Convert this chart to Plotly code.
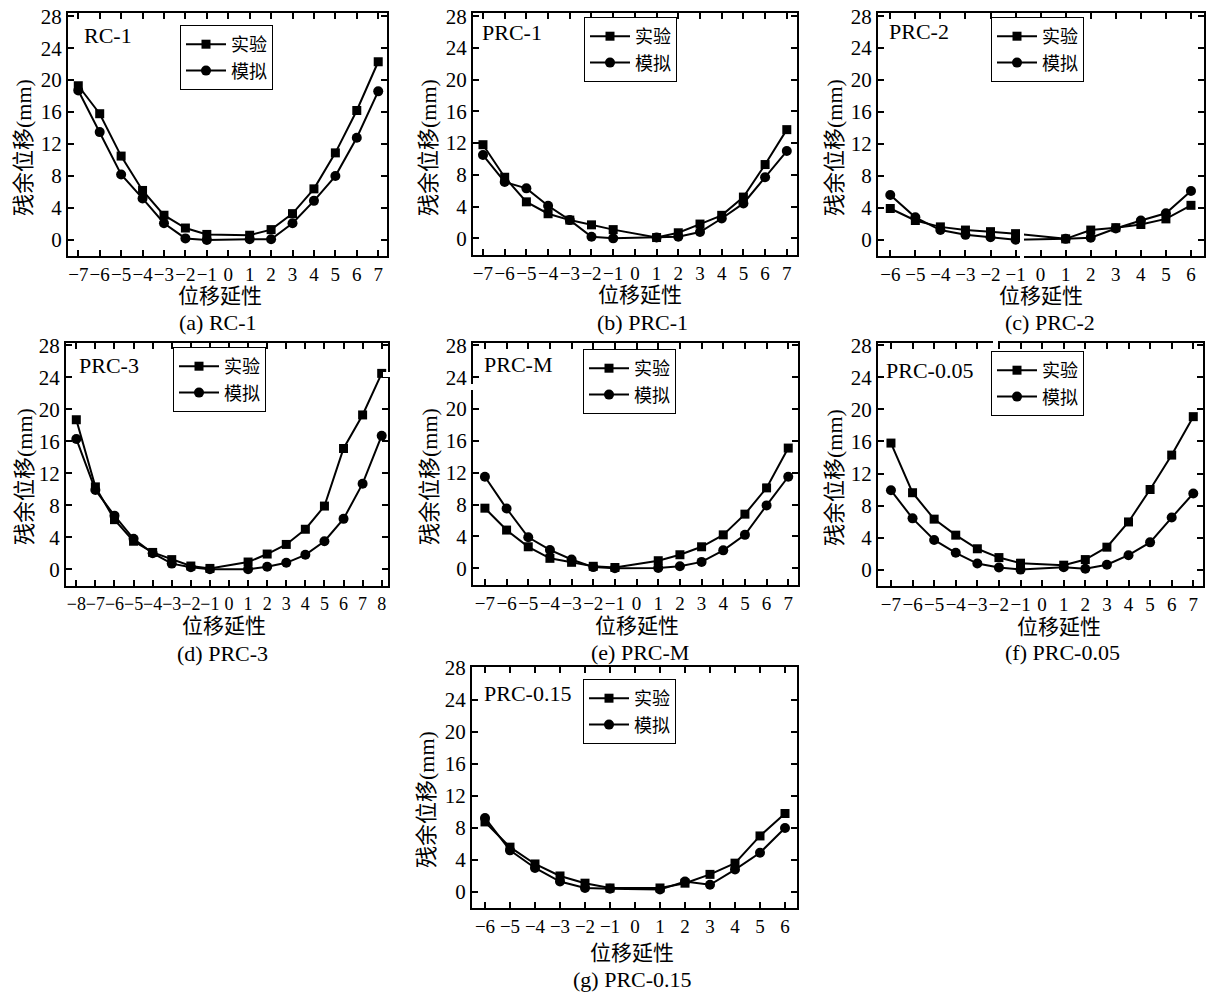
import plotly.graph_objects as go

W, H = 1210, 995

# ---------------- data ----------------
x7 = [-7, -6, -5, -4, -3, -2, -1, 1, 2, 3, 4, 5, 6, 7]
x6 = [-6, -5, -4, -3, -2, -1, 1, 2, 3, 4, 5, 6]
x8 = [-8, -7, -6, -5, -4, -3, -2, -1, 1, 2, 3, 4, 5, 6, 7, 8]

rc1_exp = [19.3, 15.8, 10.5, 6.2, 3.1, 1.5, 0.7, 0.6, 1.3, 3.3, 6.4, 10.9, 16.2, 22.3]
rc1_sim = [18.7, 13.5, 8.2, 5.2, 2.1, 0.2, 0.0, 0.1, 0.1, 2.1, 4.9, 8.0, 12.8, 18.6]

prc1_exp = [11.8, 7.7, 4.6, 3.1, 2.3, 1.7, 1.1, 0.1, 0.7, 1.8, 2.9, 5.2, 9.3, 13.7]
prc1_sim = [10.5, 7.1, 6.3, 4.1, 2.3, 0.2, 0.0, 0.1, 0.2, 0.8, 2.5, 4.4, 7.7, 11.0]

prc2_exp = [3.9, 2.4, 1.6, 1.2, 1.0, 0.75, 0.1, 1.2, 1.5, 1.9, 2.6, 4.3]
prc2_sim = [5.6, 2.8, 1.2, 0.6, 0.3, 0.0, 0.1, 0.25, 1.4, 2.4, 3.3, 6.1]

prc3_exp = [18.7, 10.3, 6.2, 3.5, 2.1, 1.2, 0.4, 0.1, 0.9, 1.9, 3.1, 5.0, 7.9, 15.1, 19.3, 24.5]
prc3_sim = [16.3, 9.9, 6.7, 3.8, 2.0, 0.7, 0.25, 0.0, 0.0, 0.3, 0.8, 1.8, 3.5, 6.3, 10.7, 16.7]

prcm_exp = [7.55, 4.8, 2.7, 1.25, 0.75, 0.25, 0.1, 0.95, 1.7, 2.7, 4.2, 6.8, 10.1, 15.1]
prcm_sim = [11.5, 7.5, 3.9, 2.3, 1.1, 0.15, 0.0, 0.05, 0.25, 0.8, 2.25, 4.2, 7.9, 11.5]

prc005_exp = [15.8, 9.6, 6.3, 4.3, 2.6, 1.5, 0.8, 0.55, 1.25, 2.8, 5.95, 10.0, 14.3, 19.1]
prc005_sim = [9.9, 6.4, 3.7, 2.1, 0.75, 0.25, 0.0, 0.3, 0.1, 0.6, 1.8, 3.4, 6.5, 9.5]

prc015_exp = [8.75, 5.6, 3.5, 2.0, 1.1, 0.5, 0.5, 1.1, 2.2, 3.6, 7.0, 9.8]
prc015_sim = [9.25, 5.2, 3.0, 1.3, 0.5, 0.4, 0.3, 1.3, 0.9, 2.8, 4.9, 8.0]

y_ticks = [0, 4, 8, 12, 16, 20, 24, 28]
series_names = ["实验", "模拟"]
panel_names = ["RC-1", "PRC-1", "PRC-2", "PRC-3", "PRC-M", "PRC-0.05", "PRC-0.15"]
captions = ["(a) RC-1", "(b) PRC-1", "(c) PRC-2", "(d) PRC-3", "(e) PRC-M", "(f) PRC-0.05", "(g) PRC-0.15"]
x_title = "位移延性"
y_title = "残余位移(mm)"

# ---------------- layout helpers ----------------
SERIF = "Liberation Serif, Noto Sans CJK SC"
CJK = "Liberation Serif, Noto Sans CJK SC"

panels = [
    dict(x=x7, e=rc1_exp, s=rc1_sim, n=7, box=(68, 13, 387, 256), xr=[-7.48, 7.41], yr=[-2.0, 28.4],
         leg=(180, 25), lab=(82, 35), xt=(220, 296), yt=(24, 148), cp=(218, 323)),
    dict(x=x7, e=prc1_exp, s=prc1_sim, n=7, box=(473, 13, 797, 255), xr=[-7.46, 7.47], yr=[-2.1, 28.4],
         leg=(584, 17), lab=(480, 33), xt=(640, 295), yt=(429, 148), cp=(642, 323)),
    dict(x=x6, e=prc2_exp, s=prc2_sim, n=6, box=(878, 13, 1204, 256), xr=[-6.49, 6.52], yr=[-2.05, 28.4],
         leg=(991, 17), lab=(887, 31), xt=(1041, 296), yt=(835, 148), cp=(1050, 323)),
    dict(x=x8, e=prc3_exp, s=prc3_sim, n=8, box=(66, 343, 388, 586), xr=[-8.54, 8.33], yr=[-2.1, 28.3],
         leg=(173, 347), lab=(77, 366), xt=(224, 626), yt=(24, 477), cp=(222, 653)),
    dict(x=x7, e=prcm_exp, s=prcm_sim, n=7, box=(473, 343, 798, 585), xr=[-7.55, 7.45], yr=[-2.1, 28.3],
         leg=(583, 349), lab=(482, 365), xt=(637, 626), yt=(429, 477), cp=(640, 652)),
    dict(x=x7, e=prc005_exp, s=prc005_sim, n=7, box=(878, 343, 1203, 586), xr=[-7.6, 7.45], yr=[-2.05, 28.3],
         leg=(991, 351), lab=(884, 370), xt=(1059, 627), yt=(834, 477), cp=(1062, 652)),
    dict(x=x6, e=prc015_exp, s=prc015_sim, n=6, box=(472, 667, 797, 908), xr=[-6.52, 6.48], yr=[-2.0, 28.1],
         leg=(583, 679), lab=(482, 693), xt=(632, 953), yt=(426, 800), cp=(632, 979)),
]


def px(xp):
    return xp / W


def py(yp):
    return 1 - yp / H


fig = go.Figure()
layout = dict(
    width=W, height=H, margin=dict(l=0, r=0, t=0, b=0, pad=0, autoexpand=False),
    paper_bgcolor="white", plot_bgcolor="white", showlegend=True,
    font=dict(family=SERIF, color="black"),
)
annotations = []
shapes = []

for i, p in enumerate(panels):
    k = "" if i == 0 else str(i + 1)
    xa, ya = "x" + k, "y" + k
    lg = "legend" + k
    fig.add_trace(go.Scatter(
        x=p["x"], y=p["e"], mode="lines+markers", name=series_names[0],
        line=dict(color="black", width=2), marker=dict(symbol="square", size=9, color="black"),
        xaxis=xa, yaxis=ya, legend=lg, cliponaxis=False))
    fig.add_trace(go.Scatter(
        x=p["x"], y=p["s"], mode="lines+markers", name=series_names[1],
        line=dict(color="black", width=2), marker=dict(symbol="circle", size=10, color="black"),
        xaxis=xa, yaxis=ya, legend=lg, cliponaxis=False))
    l, t, r, b = p["box"]
    n = p["n"]
    fs_x = 18 if n == 8 else 19
    layout["xaxis" + k] = dict(
        domain=[px(l), px(r)], anchor=ya, range=p["xr"], automargin=False,
        tickmode="array", tickvals=list(range(-n, n + 1)), tickangle=0, ticklabeloverflow="allow",
        ticks="inside", ticklen=6, tickwidth=1.5, tickcolor="black", mirror="ticks",
        showline=True, linecolor="black", linewidth=2, showgrid=False, zeroline=False,
        tickfont=dict(family=SERIF, size=fs_x, color="black"), fixedrange=True)
    layout["yaxis" + k] = dict(
        domain=[py(b), py(t)], anchor=xa, range=p["yr"], automargin=False,
        tickmode="array", tickvals=y_ticks, ticklabeloverflow="allow",
        ticks="inside", ticklen=6, tickwidth=1.5, tickcolor="black", mirror="ticks",
        showline=True, linecolor="black", linewidth=2, showgrid=False, zeroline=False,
        tickfont=dict(family=SERIF, size=21, color="black"), fixedrange=True)
    layout[lg] = dict(
        x=px(p["leg"][0]), y=py(p["leg"][1]), xanchor="left", yanchor="top",
        bordercolor="black", borderwidth=1, bgcolor="white",
        font=dict(family=CJK, size=18, color="black"), tracegroupgap=0, itemwidth=40)
    # panel label
    annotations.append(dict(text=panel_names[i], x=px(p["lab"][0]), y=py(p["lab"][1]),
                            xref="paper", yref="paper", xanchor="left", yanchor="middle",
                            showarrow=False, font=dict(family=SERIF, size=22, color="black")))
    # x title
    annotations.append(dict(text=x_title, x=px(p["xt"][0]), y=py(p["xt"][1]),
                            xref="paper", yref="paper", xanchor="center", yanchor="middle",
                            showarrow=False, font=dict(family=CJK, size=21, color="black")))
    # y title
    annotations.append(dict(text=y_title, x=px(p["yt"][0]), y=py(p["yt"][1]), textangle=-90,
                            xref="paper", yref="paper", xanchor="center", yanchor="middle",
                            showarrow=False, font=dict(family=CJK, size=22, color="black")))
    # caption
    annotations.append(dict(text=captions[i], x=px(p["cp"][0]), y=py(p["cp"][1]),
                            xref="paper", yref="paper", xanchor="center", yanchor="middle",
                            showarrow=False, font=dict(family=SERIF, size=22, color="black")))

# small breaks seen in the original figure
for (x0, y0, x1, y1) in [(1020, 229, 1024, 259), (383, 372, 391, 377), (470, 384, 476, 390), (993, 338, 998, 348)]:
    shapes.append(dict(type="rect", xref="paper", yref="paper", x0=px(x0), x1=px(x1), y0=py(y1), y1=py(y0),
                       fillcolor="white", line=dict(width=0), layer="above"))

layout["annotations"] = annotations
layout["shapes"] = shapes
fig.update_layout(**layout)
# remove the browser's default 8px page margin so the figure fills the window exactly
fig.write_html("out.html", config={"displayModeBar": False},
               post_script="document.body.style.margin='0';")
